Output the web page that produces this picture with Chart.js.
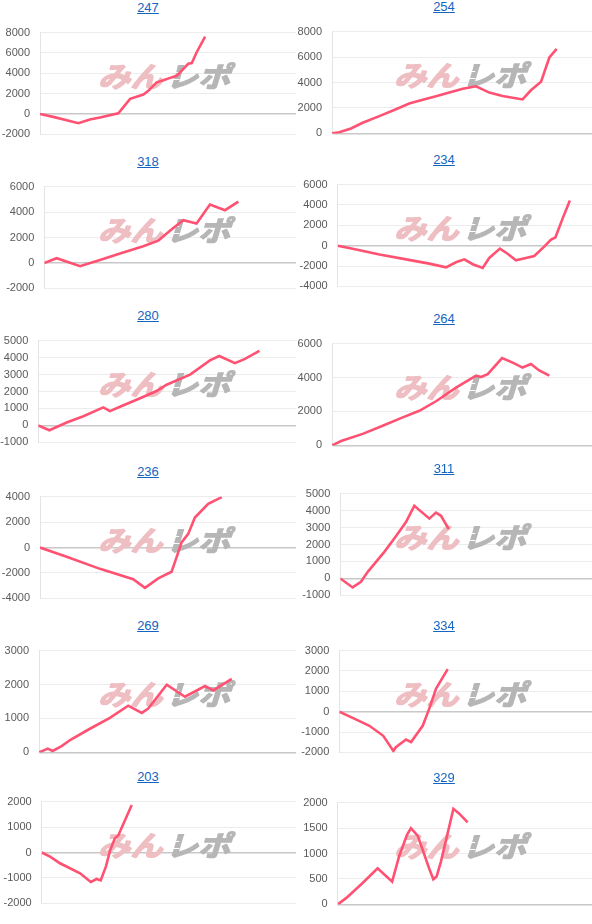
<!DOCTYPE html>
<html>
<head>
<meta charset="utf-8">
<script src="https://cdn.jsdelivr.net/npm/chart.js@4.4.0/dist/chart.umd.min.js"></script>
<style>
    body { margin: 0; background: #fff; font-family: "Liberation Sans", Arial, sans-serif; }
    #grid { position: relative; width: 592px; height: 924px; overflow: hidden; }
    .cell { position: absolute; width: 296px; }
    .cell a {
        display: block; text-align: center; height: 16px; line-height: 16px;
        font-size: 13px; color: #1565c0; text-decoration: underline;
    }
    .cell canvas { position: absolute; left: 0; }
</style>
</head>
<body>
<div id="grid"></div>
<script>
// chart titles, row by row
const titles = ['247', '254', '318', '234', '280', '264', '236', '311', '269', '334', '203', '329'];

// y axis ranges
const yMin  = [-2000, 0, -2000, -4000, -1000, 0, -4000, -1000, 0, -2000, -2000, 0];
const yMax  = [8000, 8000, 6000, 6000, 5000, 6000, 4000, 5000, 3000, 3000, 2000, 2000];
const yStep = [2000, 2000, 2000, 2000, 1000, 2000, 2000, 1000, 1000, 1000, 1000, 500];

// series: x = progress along the axis (0-100), y = balance
const x247 = [0, 5.2, 15, 19.5, 23.4, 30.6, 35.2, 40.4, 42.3, 45.6, 48.2, 51.4, 53.4, 54.7, 57.9, 59.3, 61.2, 64.5];
const y247 = [0, -280, -900, -530, -340, 80, 1490, 1910, 2275, 3120, 3315, 3600, 3760, 4100, 4940, 5000, 6070, 7610];

const x254 = [0, 2.8, 7.3, 11.8, 18.2, 24.6, 29.7, 34.9, 40, 45.1, 50.3, 55.4, 60.5, 65.6, 69.5, 73.3, 76.5, 80.4, 83.6, 86.4];
const y254 = [0, 90, 384, 836, 1356, 1898, 2350, 2644, 2915, 3209, 3503, 3706, 3209, 2938, 2802, 2667, 3390, 4068, 5966, 6644];

const x318 = [0, 4.9, 14.2, 22.1, 30.1, 39.3, 45.3, 49.9, 55.2, 60.5, 65.8, 71.8, 77.1];
const y318 = [0, 369, -257, 235, 749, 1307, 1754, 2536, 3363, 3095, 4592, 4145, 4816];

const x234 = [0, 5.9, 16.4, 26.9, 36, 42.6, 46.5, 49.8, 53.1, 57, 59.6, 63.8, 66.8, 70.1, 74, 77.3, 81.2, 83.9, 85.6, 88.5, 91.3];
const y234 = [0, -307, -872, -1346, -1765, -2128, -1626, -1346, -1821, -2184, -1207, -285, -788, -1430, -1207, -1011, -89, 609, 804, 2704, 4436];

const x280 = [0, 4.3, 11, 17.5, 25.2, 27.8, 31.7, 39.5, 45.9, 49.8, 58.9, 66.6, 70.2, 76.3, 80.2, 85.8];
const y280 = [0, -287, 169, 541, 1065, 845, 1099, 1606, 2028, 2400, 2992, 3837, 4091, 3668, 3922, 4396];

const x264 = [0, 3.5, 11.8, 19.5, 27.2, 33.6, 40, 47.7, 55.4, 57.3, 59.9, 65.4, 69.5, 73.3, 76.5, 79.7, 83.6];
const y264 = [0, 255, 680, 1156, 1649, 2040, 2601, 3400, 4114, 4029, 4199, 5150, 4878, 4589, 4793, 4419, 4114];

const x236 = [0, 10.4, 23.4, 36.4, 41, 46.2, 51.4, 53.4, 55.3, 57.9, 60.5, 65.7, 71];
const y236 = [0, -732, -1679, -2490, -3166, -2423, -1904, -732, 394, 1070, 2355, 3437, 3955];

const x311 = [0, 4.9, 8.2, 10.9, 17.5, 22.1, 26.1, 29.4, 35.4, 38, 40, 43.1];
const y311 = [0, -530, -195, 391, 1564, 2486, 3324, 4279, 3525, 3877, 3693, 2905];

const x269 = [0, 3.4, 5.3, 8.8, 12.1, 19.8, 27.6, 34.7, 40, 42.5, 49.7, 56.8, 64.6, 67.8, 75];
const y269 = [0, 110, 42, 187, 365, 697, 1020, 1377, 1164, 1292, 1997, 1640, 1955, 1827, 2167];

const x334 = [0, 5.9, 11.9, 17.4, 21.4, 22.4, 26.4, 28.4, 33, 35.6, 38.3, 42.9];
const y334 = [0, -343, -694, -1185, -1930, -1747, -1368, -1494, -694, 149, 1132, 2087];

const x203 = [0, 3.3, 7.2, 15.1, 19.3, 21.6, 23.2, 25.3, 26.9, 28.8, 30.1, 35.4];
const y203 = [0, -163, -423, -817, -1155, -1042, -1099, -535, 85, 558, 670, 1865];

const x329 = [0, 3.3, 9.8, 15.7, 21.4, 24.2, 27.3, 28.8, 31.5, 36, 37.6, 38.9, 40.6, 45.5, 47.8, 51.1];
const y329 = [0, 123, 420, 711, 448, 952, 1373, 1496, 1345, 700, 493, 549, 840, 1877, 1782, 1613];

const seriesX = [x247, x254, x318, x234, x280, x264, x236, x311, x269, x334, x203, x329];
const seriesY = [y247, y254, y318, y234, y280, y264, y236, y311, y269, y334, y203, y329];

// layout: top gridline position of each chart and width of its y axis
const gridTops = [24, 22.7, 178.3, 175.7, 331.7, 335, 488.3, 485, 642.3, 642.3, 793.3, 794.3];
const axisWidths = [40, 36, 44.3, 41.7, 38.3, 36, 40, 44.3, 39, 43.3, 41.7, 41.7];

const PLOT_H = 118.5;

// "みんレポ" logo behind the line
const watermark = {
    id: 'watermark',
    beforeDatasetsDraw(chart) {
        const ctx = chart.ctx;
        ctx.save();
        ctx.translate(167, 8 + 51);
        ctx.transform(1.15, 0, -0.3, 1, 0, 0);
        ctx.font = 'bold 28px "Noto Sans CJK JP"';
        ctx.textBaseline = 'middle';
        ctx.lineJoin = 'round';
        ctx.lineWidth = 1.4;

        ctx.textAlign = 'right';
        ctx.fillStyle = 'rgb(238, 190, 194)';
        ctx.strokeStyle = 'rgb(238, 190, 194)';
        ctx.strokeText('みん', -1, 1);
        ctx.fillText('みん', -1, 1);

        ctx.textAlign = 'left';
        ctx.fillStyle = 'rgb(182, 182, 182)';
        ctx.strokeStyle = 'rgb(182, 182, 182)';
        ctx.strokeText('レポ', 2, 1);
        ctx.fillText('レポ', 2, 1);

        // speed lines through the grey part
        ctx.globalCompositeOperation = 'source-atop';
        ctx.fillStyle = '#fff';
        ctx.fillRect(2, -3, 8, 1);
        ctx.fillRect(2, 4, 10, 1);
        ctx.restore();
    }
};

function makeChart(i) {
    const col = i % 2;
    const cell = document.createElement('div');
    cell.className = 'cell';
    cell.style.left = (col * 296) + 'px';
    cell.style.top = (gridTops[i] - 24) + 'px';

    const link = document.createElement('a');
    link.href = '#';
    link.textContent = titles[i];
    cell.appendChild(link);

    const canvas = document.createElement('canvas');
    canvas.width = 296;
    canvas.height = Math.round(PLOT_H + 16);
    canvas.style.top = '16px';
    cell.appendChild(canvas);
    document.getElementById('grid').appendChild(cell);

    const points = seriesX[i].map((x, k) => ({ x: x, y: seriesY[i][k] }));

    new Chart(canvas, {
        type: 'line',
        data: {
            datasets: [{
                data: points,
                borderColor: '#ff5273',
                borderWidth: 2.6,
                pointRadius: 0,
                tension: 0,
                fill: false
            }]
        },
        options: {
            responsive: false,
            animation: false,
            devicePixelRatio: 1,
            layout: { padding: { top: 8, bottom: 8, left: 0, right: 0 } },
            scales: {
                x: { type: 'linear', min: 0, max: 100, display: false },
                y: {
                    min: yMin[i],
                    max: yMax[i],
                    afterFit: s => { s.width = axisWidths[i]; },
                    ticks: {
                        stepSize: yStep[i],
                        padding: 10,
                        color: '#5a5a5a',
                        font: { family: '"Liberation Sans", Arial', size: 11 },
                        callback: value => String(value)
                    },
                    grid: {
                        drawTicks: false,
                        color: ctx => ctx.tick && ctx.tick.value === 0 ? '#c8c8c8' : '#ececec',
                        lineWidth: ctx => ctx.tick && ctx.tick.value === 0 ? 1.5 : 1
                    },
                    border: { color: '#e4e4e4' }
                }
            },
            plugins: {
                legend: { display: false },
                tooltip: { enabled: false }
            }
        },
        plugins: [watermark]
    });
}

document.addEventListener('DOMContentLoaded', function() {
    for (let i = 0; i < titles.length; i++) {
        makeChart(i);
    }
});
</script>
</body>
</html>
